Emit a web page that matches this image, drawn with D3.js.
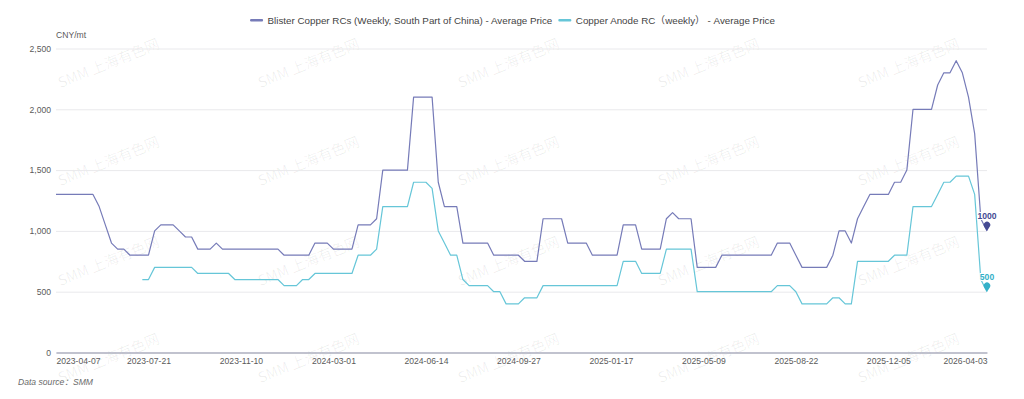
<!DOCTYPE html>
<html>
<head>
<meta charset="utf-8">
<script src="https://cdn.jsdelivr.net/npm/d3@7"></script>
<style>
  html, body { margin: 0; padding: 0; background: #ffffff; }
  svg { display: block; }
  text { font-family: "Noto Sans", "Open Sans", "Liberation Sans", sans-serif; }
</style>
</head>
<body>
<svg id="chart" width="1024" height="399"></svg>
<script>
// ---------------- DATA ----------------
const categories = [
  "2023-04-07","2023-04-14","2023-04-21","2023-04-28","2023-05-05","2023-05-12","2023-05-19","2023-05-26",
  "2023-06-02","2023-06-09","2023-06-16","2023-06-23","2023-06-30","2023-07-07","2023-07-14","2023-07-21",
  "2023-07-28","2023-08-04","2023-08-11","2023-08-18","2023-08-25","2023-09-01","2023-09-08","2023-09-15",
  "2023-09-22","2023-09-29","2023-10-13","2023-10-20","2023-10-27","2023-11-03","2023-11-10","2023-11-17",
  "2023-11-24","2023-12-01","2023-12-08","2023-12-15","2023-12-22","2023-12-29","2024-01-05","2024-01-12",
  "2024-01-19","2024-01-26","2024-02-02","2024-02-09","2024-02-23","2024-03-01","2024-03-08","2024-03-15",
  "2024-03-22","2024-03-29","2024-04-05","2024-04-12","2024-04-19","2024-04-26","2024-05-03","2024-05-10",
  "2024-05-17","2024-05-24","2024-05-31","2024-06-07","2024-06-14","2024-06-21","2024-06-28","2024-07-05",
  "2024-07-12","2024-07-19","2024-07-26","2024-08-02","2024-08-09","2024-08-16","2024-08-23","2024-08-30",
  "2024-09-06","2024-09-13","2024-09-20","2024-09-27","2024-10-11","2024-10-18","2024-10-25","2024-11-01",
  "2024-11-08","2024-11-15","2024-11-22","2024-11-29","2024-12-06","2024-12-13","2024-12-20","2024-12-27",
  "2025-01-03","2025-01-10","2025-01-17","2025-01-24","2025-02-07","2025-02-14","2025-02-21","2025-02-28",
  "2025-03-07","2025-03-14","2025-03-21","2025-03-28","2025-04-04","2025-04-11","2025-04-18","2025-04-25",
  "2025-05-02","2025-05-09","2025-05-16","2025-05-23","2025-05-30","2025-06-06","2025-06-13","2025-06-20",
  "2025-06-27","2025-07-04","2025-07-11","2025-07-18","2025-07-25","2025-08-01","2025-08-08","2025-08-15",
  "2025-08-22","2025-08-29","2025-09-05","2025-09-12","2025-09-19","2025-09-26","2025-10-03","2025-10-10",
  "2025-10-17","2025-10-24","2025-10-31","2025-11-07","2025-11-14","2025-11-21","2025-11-28","2025-12-05",
  "2025-12-12","2025-12-19","2025-12-26","2026-01-02","2026-01-09","2026-01-16","2026-01-23","2026-01-30",
  "2026-02-06","2026-02-13","2026-02-27","2026-03-06","2026-03-13","2026-03-20","2026-03-27","2026-04-03"
];

const blisterRC = [
  1300,1300,1300,1300,1300,1300,1300,1200,1050,900,850,850,800,800,800,800,
  1000,1050,1050,1050,1000,950,950,850,850,850,900,850,850,850,850,850,
  850,850,850,850,850,800,800,800,800,800,900,900,900,850,850,850,
  850,1050,1050,1050,1100,1500,1500,1500,1500,1500,2100,2100,2100,2100,1400,1200,
  1200,1200,900,900,900,900,900,800,800,800,800,800,750,750,750,1100,
  1100,1100,1100,900,900,900,900,800,800,800,800,800,1050,1050,1050,850,
  850,850,850,1100,1150,1100,1100,1100,700,700,700,700,800,800,800,800,
  800,800,800,800,800,900,900,900,800,700,700,700,700,700,800,1000,
  1000,900,1100,1200,1300,1300,1300,1300,1400,1400,1500,2000,2000,2000,2000,2200,
  2300,2300,2400,2300,2100,1800,1100,1000
];

const anodeRC = [
  null,null,null,null,null,null,null,null,null,null,null,null,null,null,600,600,
  700,700,700,700,700,700,700,650,650,650,650,650,650,600,600,600,
  600,600,600,600,600,550,550,550,600,600,650,650,650,650,650,650,
  650,800,800,800,850,1200,1200,1200,1200,1200,1400,1400,1400,1350,1000,900,
  800,800,600,550,550,550,550,500,500,400,400,400,450,450,450,550,
  550,550,550,550,550,550,550,550,550,550,550,550,750,750,750,650,
  650,650,650,850,850,850,850,850,500,500,500,500,500,500,500,500,
  500,500,500,500,500,550,550,550,500,400,400,400,400,400,450,450,
  400,400,750,750,750,750,750,750,800,800,800,1200,1200,1200,1200,1300,
  1400,1400,1450,1450,1450,1300,600,500
];

const seriesNames = [
  "Blister Copper RCs (Weekly, South Part of China) - Average Price",
  "Copper Anode RC\uFF08weekly\uFF09 - Average Price"
];
const tickLabels = ["2023-04-07","2023-07-21","2023-11-10","2024-03-01","2024-06-14","2024-09-27",
                    "2025-01-17","2025-05-09","2025-08-22","2025-12-05","2026-04-03"];
const yTicks = [0, 500, 1000, 1500, 2000, 2500];
const unitLabel = "CNY/mt";
const sourceLabel = "Data source\uFF1ASMM";
const watermarkText = "SMM \u4E0A\u6D77\u6709\u8272\u7F51";

// ---------------- LAYOUT / STYLE ----------------
const W = 1024, H = 399;
const mLeft = 56, mRight = 987, mTop = 48.5, mBottom = 352.5;
const colors = ["#767bb8", "#66c6d8"];
const markerColors = ["#444a93", "#34b0c8"];

const svg = d3.select("#chart");

// watermark
const wm = svg.append("g").attr("class", "watermark");
const wmXs = [108, 308, 508, 708, 908];
const wmYs = [62, 160, 260, 357];
wmYs.forEach(yy => wmXs.forEach(xx => {
  wm.append("text")
    .attr("transform", `translate(${xx},${yy}) rotate(-22)`)
    .attr("text-anchor", "middle")
    .attr("dominant-baseline", "central")
    .attr("font-size", 14.5)
    .attr("fill", "#000")
    .attr("fill-opacity", 0.065)
    .style("font-family", "'Noto Sans CJK SC', 'Noto Sans', sans-serif")
    .text(watermarkText);
}));

const x = d3.scalePoint().domain(categories).range([mLeft, mRight]);
const y = d3.scaleLinear().domain([0, 2500]).range([mBottom, mTop]);

// grid
const grid = svg.append("g")
  .attr("transform", `translate(${mLeft},0)`)
  .call(d3.axisLeft(y).tickValues(yTicks).tickSize(-(mRight - mLeft)).tickFormat(""));
grid.select(".domain").remove();
grid.selectAll("line").attr("stroke", "#e9e9ec").attr("stroke-width", 1);

// y axis labels
const yAxis = svg.append("g")
  .attr("transform", `translate(${mLeft},0)`)
  .call(d3.axisLeft(y).tickValues(yTicks).tickSize(0).tickPadding(5).tickFormat(d3.format(",")));
yAxis.select(".domain").remove();
yAxis.selectAll("text")
  .attr("font-size", 8.6)
  .attr("fill", "#5a5a5a")
  .style("font-family", "'Liberation Sans', Arial, sans-serif");

// x axis
const xAxis = svg.append("g")
  .attr("transform", `translate(0,${mBottom})`)
  .call(d3.axisBottom(x).tickValues(tickLabels).tickSize(0).tickPadding(5));
xAxis.select(".domain").attr("stroke", "#8e91a8").attr("stroke-width", 1);
xAxis.selectAll("text")
  .attr("font-size", 8.6)
  .attr("fill", "#5a5a5a")
  .style("font-family", "'Liberation Sans', Arial, sans-serif");
xAxis.selectAll(".tick text").attr("text-anchor", (d, i) =>
  i === 0 ? "start" : (i === tickLabels.length - 1 ? "end" : "middle"));

// unit label
svg.append("text")
  .attr("x", mLeft)
  .attr("y", 35)
  .attr("dominant-baseline", "central")
  .attr("font-size", 8.6)
  .attr("fill", "#5a5a5a")
  .style("font-family", "'Liberation Sans', Arial, sans-serif")
  .text(unitLabel);

// lines
const allSeries = [blisterRC, anodeRC];
allSeries.forEach((vals, si) => {
  const line = d3.line()
    .defined(d => d != null)
    .x((d, i) => x(categories[i]))
    .y(d => y(d));
  svg.append("path")
    .datum(vals)
    .attr("fill", "none")
    .attr("stroke", colors[si])
    .attr("stroke-width", 1.2)
    .attr("stroke-linejoin", "round")
    .attr("d", line);
});

// end markers (pins) + labels
allSeries.forEach((vals, si) => {
  const last = vals.length - 1;
  const px = x(categories[last]);
  const py = y(vals[last]);
  const r = 3.3;
  const cy = py - 6;
  const p = d3.path();
  p.moveTo(px, py);
  p.lineTo(px - r * 0.9, cy + r * 0.5);
  p.arc(px, cy, r, Math.PI * 0.83, Math.PI * 2.17);
  p.closePath();
  svg.append("path").attr("d", p.toString()).attr("fill", markerColors[si]);
  svg.append("text")
    .attr("x", px)
    .attr("y", py - 12)
    .attr("text-anchor", "middle")
    .attr("font-size", 8.6)
    .attr("font-weight", "bold")
    .attr("fill", markerColors[si])
    .attr("stroke", "#fff")
    .attr("stroke-width", 2)
    .attr("paint-order", "stroke")
    .style("font-family", "'Liberation Sans', Arial, sans-serif")
    .text(vals[last]);
});

// legend
const legend = svg.append("g");
let cursor = 0;
seriesNames.forEach((name, i) => {
  const g = legend.append("g").attr("transform", `translate(${cursor},0)`);
  g.append("rect").attr("x", 0).attr("y", 19).attr("width", 13).attr("height", 2.4)
    .attr("rx", 1).attr("fill", colors[i]);
  const t = g.append("text").attr("x", 17.5).attr("y", 20.5)
    .attr("dominant-baseline", "central")
    .attr("font-size", 9.8)
    .attr("fill", "#444")
    .style("font-family", "'Liberation Sans', Arial, 'Noto Sans CJK SC', sans-serif")
    .text(name);
  const w = 17.5 + t.node().getComputedTextLength();
  cursor += w + 6;
});
const legendW = cursor - 6;
legend.attr("transform", `translate(${(W - legendW) / 2 + 0.5},0)`);

// source
svg.append("text")
  .attr("x", 18)
  .attr("y", 382)
  .attr("dominant-baseline", "central")
  .attr("font-size", 8.6)
  .attr("font-style", "italic")
  .attr("fill", "#6a6a6a")
  .style("font-family", "'Liberation Sans', Arial, 'Noto Sans CJK SC', sans-serif")
  .text(sourceLabel);
</script>
</body>
</html>
